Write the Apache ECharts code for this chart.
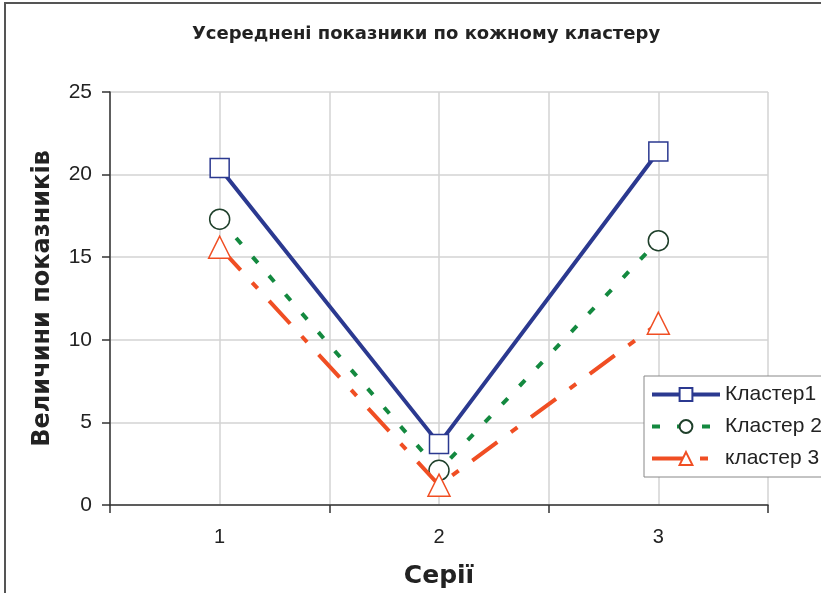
<!DOCTYPE html>
<html>
<head>
<meta charset="utf-8">
<script src="https://cdn.jsdelivr.net/npm/echarts@6/dist/echarts.min.js"></script>
<style>
html,body{margin:0;padding:0;background:#fff;}
#chart{width:821px;height:593px;}
</style>
</head>
<body>
<div id="chart"></div>
<script>
const categories = ['1', '2', '3'];
const cluster1 = [20.4, 3.7, 21.4];
const cluster2 = [17.3, 2.1, 16.0];
const cluster3 = [15.6, 1.2, 11.0];
const seriesNames = ['Кластер1', 'Кластер 2', 'кластер 3'];
const titleText = 'Усереднені показники по кожному кластеру';
const yName = 'Величини показників';
const xName = 'Серії';

const colors = ['#2B3990', '#13893F', '#F04E23'];
const dashes = ['solid', [8, 17], [31, 17, 8, 17]];

const chart = echarts.init(document.getElementById('chart'));
chart.setOption({
  animation: false,
  backgroundColor: '#fff',
  graphic: [{
    type: 'rect', z: 0,
    shape: {x: 5, y: 3, width: 900, height: 700},
    style: {fill: 'none', stroke: '#555', lineWidth: 2}
  }],
  title: {
    text: titleText,
    left: 421, top: 20, textAlign: 'center',
    textStyle: {fontFamily: 'DejaVu Sans', fontWeight: 'bold', fontSize: 18, color: '#222'}
  },
  grid: {left: 110, right: 53, top: 92, bottom: 88, outerBoundsMode: 'none', containLabel: false},
  legend: {
    orient: 'vertical',
    left: 644, top: 376,
    padding: [8, 60, 8, 6],
    itemWidth: 68, itemHeight: 16, itemGap: 11,
    backgroundColor: '#fff',
    borderColor: '#888', borderWidth: 1,
    textStyle: {fontFamily: 'Liberation Sans', fontSize: 21, color: '#222'},
    data: seriesNames.map((n, i) => ({
      name: n,
      lineStyle: {width: 4, color: colors[i], type: dashes[i]}
    }))
  },
  xAxis: [{
    type: 'category',
    data: categories,
    boundaryGap: true,
    axisLine: {lineStyle: {color: '#333', width: 1.5}},
    axisTick: {show: true, length: 8, lineStyle: {color: '#333', width: 1.5}},
    axisLabel: {fontFamily: 'Liberation Sans', fontSize: 20, color: '#222', margin: 22},
    splitLine: {show: false},
    name: xName, nameLocation: 'middle', nameGap: 59,
    nameTextStyle: {fontFamily: 'DejaVu Sans', fontWeight: 'bold', fontSize: 25, color: '#222'}
  }, {
    type: 'value',
    min: 0.5, max: 3.5, interval: 0.5,
    position: 'bottom',
    axisLine: {show: false}, axisTick: {show: false}, axisLabel: {show: false},
    splitLine: {show: true, lineStyle: {color: '#d3d3d3', width: 1.5}}
  }],
  yAxis: {
    type: 'value', min: 0, max: 25, interval: 5,
    axisLine: {show: true, lineStyle: {color: '#333', width: 1.5}},
    axisTick: {show: true, length: 8, lineStyle: {color: '#333', width: 1.5}},
    axisLabel: {fontFamily: 'Liberation Sans', fontSize: 21, color: '#222', margin: 18},
    splitLine: {show: true, lineStyle: {color: '#d3d3d3', width: 1.5}},
    name: yName, nameLocation: 'middle', nameGap: 55, nameRotate: 90,
    nameTextStyle: {fontFamily: 'DejaVu Sans', fontWeight: 'bold', fontSize: 24, color: '#222'}
  },
  series: [{
    name: seriesNames[0], type: 'line', data: cluster1, xAxisIndex: 0,
    symbol: 'rect', symbolSize: 19, showAllSymbol: true,
    lineStyle: {color: colors[0], width: 4, type: dashes[0]},
    itemStyle: {color: '#fff', borderColor: '#2B3990', borderWidth: 1.5},
    z: 3
  }, {
    name: seriesNames[1], type: 'line', data: cluster2, xAxisIndex: 0,
    symbol: 'circle', symbolSize: 20,
    lineStyle: {color: colors[1], width: 4, type: dashes[1]},
    itemStyle: {color: '#fff', borderColor: '#1E3F2A', borderWidth: 1.5},
    z: 4
  }, {
    name: seriesNames[2], type: 'line', data: cluster3, xAxisIndex: 0,
    symbol: 'triangle', symbolSize: 22,
    lineStyle: {color: colors[2], width: 4, type: dashes[2]},
    itemStyle: {color: '#fff', borderColor: '#F04E23', borderWidth: 1.5},
    z: 5
  }]
});
</script>
</body>
</html>
